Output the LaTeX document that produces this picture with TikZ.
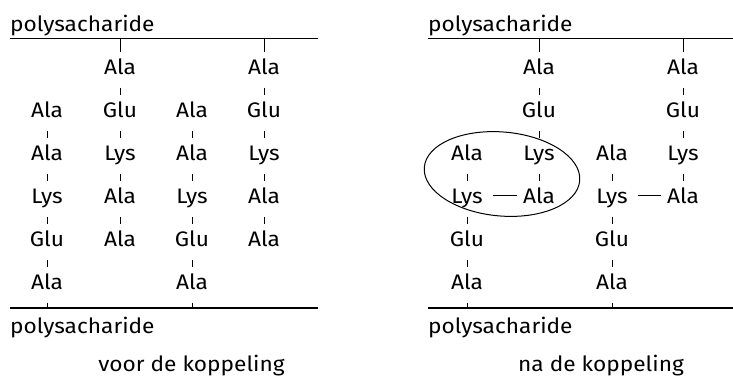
\documentclass[tikz,border=0pt]{standalone}
\usepackage{fontspec}
\setmainfont{Fira Sans}[FakeStretch=1.08]
\begin{document}
\begin{tikzpicture}[x=1pt,y=-1pt,
  aa/.style={font=\fontsize{21}{25}\selectfont, inner sep=0pt, text height=14pt, text depth=4pt, outer ysep=9pt, anchor=base},
  lbl/.style={font=\fontsize{21}{25}\selectfont, inner sep=0pt, anchor=base west},
  captxt/.style={font=\fontsize{21}{25}\selectfont, inner sep=0pt, anchor=base},
  bbone/.style={line width=1.2pt},
  bond/.style={line width=1pt},
]
\useasboundingbox (0,0) rectangle (733,376);
% backbones
\draw[bbone] (10,38.5) coordinate (tl0) -- (318,38.5) coordinate (tl1);
\draw[bbone] (428,38.5) coordinate (tr0) -- (733,38.5) coordinate (tr1);
\draw[bbone] (10,308) coordinate (bl0) -- (318,308) coordinate (bl1);
\draw[bbone] (428,308) coordinate (br0) -- (733,308) coordinate (br1);
\node[lbl] (ptl) at (10,31.5) {polysacharide};
\node[lbl] (ptr) at (428,31.5) {polysacharide};
\node[lbl] (pbl) at (10,333) {polysacharide};
\node[lbl] (pbr) at (428,333) {polysacharide};
\node[captxt] (cl) at (191.5,371) {voor de koppeling};
\node[captxt] (cr) at (601,371) {na de koppeling};
% ---------- left panel ----------
\foreach \c/\x in {B/120,D/264}{
  \coordinate (L\c0) at (\x,38.5);
  \node[aa] (L\c1) at (\x,74.5) {Ala};
  \node[aa] (L\c2) at (\x,117.5) {Glu};
  \node[aa] (L\c3) at (\x,160.5) {Lys};
  \node[aa] (L\c4) at (\x,203.5) {Ala};
  \node[aa] (L\c5) at (\x,246.5) {Ala};
  \draw[bond] (L\c0) -- (L\c1.north);
  \draw[bond] (L\c1) -- (L\c2) (L\c2) -- (L\c3) (L\c3) -- (L\c4) (L\c4) -- (L\c5);
}
\foreach \c/\x in {A/47,C/192}{
  \node[aa] (L\c2) at (\x,117.5) {Ala};
  \node[aa] (L\c3) at (\x,160.5) {Ala};
  \node[aa] (L\c4) at (\x,203.5) {Lys};
  \node[aa] (L\c5) at (\x,246.5) {Glu};
  \node[aa] (L\c6) at (\x,289.5) {Ala};
  \coordinate (L\c7) at (\x,308);
  \draw[bond] (L\c2) -- (L\c3) (L\c3) -- (L\c4) (L\c4) -- (L\c5) (L\c5) -- (L\c6);
  \draw[bond] (L\c6.south) -- (L\c7);
}
% ---------- right panel ----------
\foreach \c/\x in {F/539,H/683}{
  \coordinate (R\c0) at (\x,38.5);
  \node[aa] (R\c1) at (\x,74.5) {Ala};
  \node[aa] (R\c2) at (\x,117.5) {Glu};
  \node[aa] (R\c3) at (\x,160.5) {Lys};
  \node[aa] (R\c4) at (\x,203.5) {Ala};
  \draw[bond] (R\c0) -- (R\c1.north);
  \draw[bond] (R\c1) -- (R\c2) (R\c2) -- (R\c3) (R\c3) -- (R\c4);
}
\foreach \c/\x in {E/467,G/612}{
  \node[aa] (R\c3) at (\x,160.5) {Ala};
  \node[aa] (R\c4) at (\x,203.5) {Lys};
  \node[aa] (R\c5) at (\x,246.5) {Glu};
  \node[aa] (R\c6) at (\x,289.5) {Ala};
  \coordinate (R\c7) at (\x,308);
  \draw[bond] (R\c3) -- (R\c4) (R\c4) -- (R\c5) (R\c5) -- (R\c6);
  \draw[bond] (R\c6.south) -- (R\c7);
}
% cross links
\draw[bond] ([xshift=10pt,yshift=3.5pt]RE4.east) -- ([xshift=-6pt,yshift=3.5pt]RF4.west);
\draw[bond] ([xshift=10pt,yshift=3.5pt]RG4.east) -- ([xshift=-6pt,yshift=3.5pt]RH4.west);
% ellipse
\draw[line width=1pt] (502,174) ellipse [x radius=78pt, y radius=42pt, rotate=-5];
\end{tikzpicture}
\end{document}
